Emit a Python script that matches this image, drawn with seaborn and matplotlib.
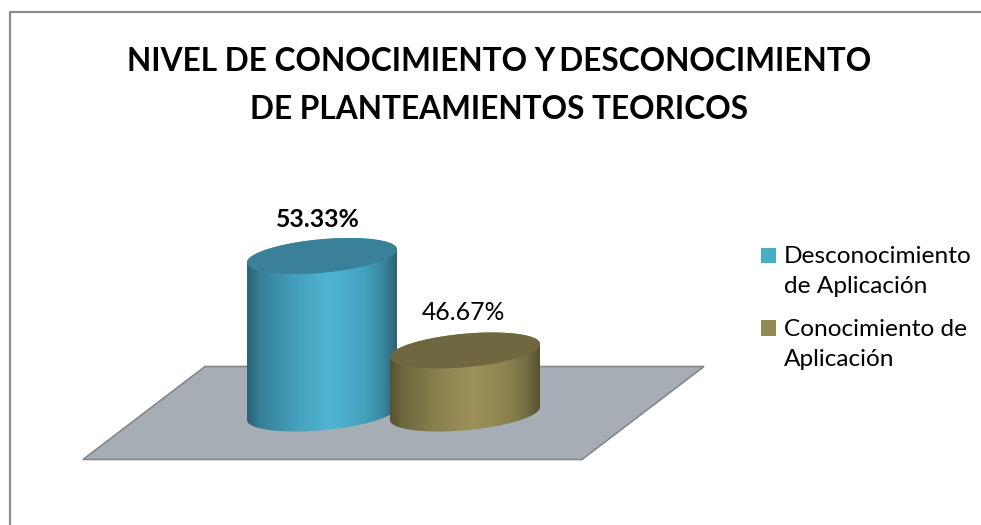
import numpy as np
import pandas as pd
import matplotlib
matplotlib.use('Agg')
import matplotlib.pyplot as plt
import seaborn as sns
from matplotlib.colors import LinearSegmentedColormap
from matplotlib.lines import Line2D
from matplotlib.patches import Patch, PathPatch, Polygon
from matplotlib.path import Path

categories = ['Desconocimiento\nde Aplicación', 'Conocimiento de\nAplicación']
values = [53.33, 46.67]
value_labels = ['53.33%', '46.67%']
label_weights = ['bold', 'normal']
label_offsets = [(-4, 36), (-2, 38)]
title = 'NIVEL DE CONOCIMIENTO Y\u2009DESCONOCIMIENTO\nDE PLANTEAMIENTOS TEORICOS'

legend_colors = ['#4BACC6', '#948A54']
top_colors = ['#3A8098', '#6E673F']
side_stops = [
    ['#2A6276', '#37829A', '#45A0BC', '#4FB5D3', '#45A2BE', '#37839B', '#2A6274'],
    ['#59532F', '#6F6A3E', '#8A8250', '#9D9159', '#8B8350', '#716B40', '#57522E'],
]
stop_pos = [0, 0.1, 0.33, 0.55, 0.78, 0.92, 1]

# axis scale: base of the bars and pixels per unit
W, H = 981, 525
x0_px, x_step = 322, 143
base_val, base_px, y_step = 42.23, 413.5, 14.19

def xd(p):
    return (p - x0_px) / x_step

def yd(p):
    return base_val + (base_px - p) / y_step

sns.set_theme(style='white')
plt.rcParams['font.family'] = ['Lato', 'DejaVu Sans']

fig = plt.figure(figsize=(W / 100, H / 100), dpi=100, facecolor='white')
ax = fig.add_axes([0, 0, 1, 1])

df = pd.DataFrame({'cat': categories, 'val': values})
sns.barplot(data=df, x='cat', y='val', hue='cat', palette=legend_colors, dodge=False,
            width=150 / x_step, legend=False, ax=ax)
bars = list(ax.patches)

# frame of the chart, only top and left are in the crop
fig.add_artist(Line2D([9.5 / W, 9.5 / W, 1], [0, 1 - 11.5 / H, 1 - 11.5 / H], color='#8C8C8C', lw=1.6))

# floor
floor = [(83, 459.5), (582, 459.5), (704, 366.5), (205, 366.5)]
ax.add_patch(Polygon([(xd(a), yd(b)) for a, b in floor], closed=True, facecolor='#A6ADB4',
                     edgecolor='#85888B', lw=1.2, zorder=1))

t = np.linspace(0, 2 * np.pi, 181)
tilt = 6.5 / y_step
depth = 16.8 / y_step

for i, bar in enumerate(bars):
    bar.set_visible(False)
    left = bar.get_x()
    w = bar.get_width()
    v = bar.get_height()
    cx = left + w / 2
    z = 2 + i

    # body: lower half of the bottom ellipse joined to the lower half of the top one
    tt = np.linspace(0, np.pi, 91)
    bx = cx + w / 2 * np.cos(tt)
    by = base_val + tilt * np.cos(tt) - depth * np.sin(tt)
    tx = cx + w / 2 * np.cos(tt[::-1])
    ty = v + tilt * np.cos(tt[::-1]) + depth * np.sin(tt[::-1])
    verts = np.vstack([np.column_stack([bx, by]), np.column_stack([tx, ty]), [[bx[0], by[0]]]])
    clip = PathPatch(Path(verts), facecolor='none', edgecolor='none', zorder=z)
    ax.add_patch(clip)

    cmap = LinearSegmentedColormap.from_list('side%d' % i, list(zip(stop_pos, side_stops[i])))
    grad = np.linspace(0, 1, 256).reshape(1, -1)
    im = ax.imshow(grad, cmap=cmap, aspect='auto', zorder=z,
                   extent=[left, left + w, base_val - 2, v + 2], interpolation='bilinear')
    im.set_clip_path(clip)

    # top face
    ex = cx + w / 2 * np.cos(t)
    ey = v + tilt * np.cos(t) + depth * np.sin(t)
    ax.fill(ex, ey, color=top_colors[i], lw=0, zorder=z + 0.5)

    ax.annotate(value_labels[i], xy=(cx, v), xytext=label_offsets[i], textcoords='offset pixels',
                ha='center', va='center', fontsize=17.8, fontweight=label_weights[i],
                color='black', zorder=6)

ax.set_xlim(xd(0), xd(W))
ax.set_ylim(yd(H), yd(0))
ax.set_axis_off()

fig.text(499.5 / W, 1 - 85.5 / H, title, ha='center', va='center', fontsize=22.8, fontweight='bold',
         color='black', linespacing=1.83)

handles = [Patch(facecolor=c, edgecolor='none') for c in legend_colors]
leg = ax.legend(handles, categories, loc='upper left', bbox_to_anchor=(761 / W, 1 - 246 / H),
                bbox_transform=fig.transFigure, frameon=False, fontsize=17.6, handlelength=0.61,
                handleheight=0.61, handletextpad=0.33, labelspacing=0.87, borderpad=0, borderaxespad=0,
                labelcolor='black')
for txt in leg.get_texts():
    txt.set_linespacing(1.55)
# swatch sits on the first text line, not the middle of the entry
for h in leg.legend_handles:
    h.set_y(h.get_y() + 11.5)

fig.savefig('out.png', dpi=100, facecolor='white')
